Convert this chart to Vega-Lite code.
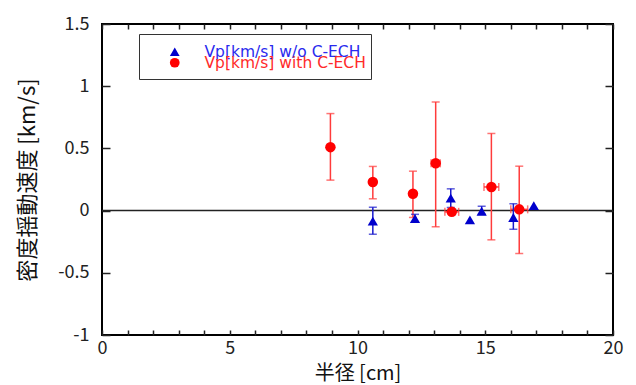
{
  "$schema": "https://vega.github.io/schema/vega-lite/v6.json",
  "width": 511,
  "height": 311,
  "autosize": {"type": "none"},
  "padding": {"left": 102, "top": 24, "right": 23, "bottom": 50},
  "background": "white",
  "config": {
    "view": {"stroke": "black", "strokeWidth": 2},
    "font": "Noto Sans CJK JP",
    "axis": {"domain": false, "grid": false, "labelFont": "Noto Sans CJK JP", "titleFont": "Noto Sans CJK JP", "labelColor": "#222", "titleColor": "#111", "tickColor": "#222", "labelFontSize": 18, "titleFontSize": 20, "titleFontWeight": "normal", "tickWidth": 1.5}
  },
  "data": {"values": [
    {"s": "Vp[km/s] with C-ECH", "r": 8.94, "v": 0.51, "vlo": 0.245, "vhi": 0.78},
    {"s": "Vp[km/s] with C-ECH", "r": 10.6, "v": 0.23, "vlo": 0.095, "vhi": 0.355},
    {"s": "Vp[km/s] with C-ECH", "r": 12.17, "v": 0.135, "vlo": -0.055, "vhi": 0.317},
    {"s": "Vp[km/s] with C-ECH", "r": 13.06, "v": 0.38, "vlo": -0.13, "vhi": 0.873, "rlo": 12.88, "rhi": 13.24},
    {"s": "Vp[km/s] with C-ECH", "r": 13.69, "v": -0.01, "vlo": -0.03, "vhi": 0.01, "rlo": 13.42, "rhi": 13.96},
    {"s": "Vp[km/s] with C-ECH", "r": 15.24, "v": 0.19, "vlo": -0.235, "vhi": 0.62, "rlo": 14.95, "rhi": 15.53},
    {"s": "Vp[km/s] with C-ECH", "r": 16.33, "v": 0.01, "vlo": -0.345, "vhi": 0.357, "rlo": 16.0, "rhi": 16.66},
    {"s": "Vp[km/s] w/o C-ECH", "r": 10.6, "v": -0.085, "vlo": -0.19, "vhi": 0.027},
    {"s": "Vp[km/s] w/o C-ECH", "r": 12.25, "v": -0.065, "vlo": -0.09, "vhi": -0.03},
    {"s": "Vp[km/s] w/o C-ECH", "r": 13.65, "v": 0.1, "vlo": 0.025, "vhi": 0.175},
    {"s": "Vp[km/s] w/o C-ECH", "r": 14.4, "v": -0.075},
    {"s": "Vp[km/s] w/o C-ECH", "r": 14.86, "v": -0.005, "vlo": -0.03, "vhi": 0.035},
    {"s": "Vp[km/s] w/o C-ECH", "r": 16.1, "v": -0.055, "vlo": -0.15, "vhi": 0.055},
    {"s": "Vp[km/s] w/o C-ECH", "r": 16.9, "v": 0.04}
  ]},
  "resolve": {"axis": {"x": "independent", "y": "independent"}, "scale": {"color": "independent"}},
  "layer": [
    {
      "data": {"values": [{"z": 0}]},
      "mark": {"type": "rule", "color": "#222", "strokeWidth": 1.5},
      "encoding": {"y": {"field": "z", "type": "quantitative", "scale": {"domain": [-1, 1.5], "nice": false, "zero": false}, "axis": null}}
    },
    {
      "transform": [{"filter": "isValid(datum.vlo) && datum.s === 'Vp[km/s] with C-ECH'"}],
      "mark": {"type": "errorbar", "color": "#ff3b3b", "thickness": 1.5, "ticks": {"size": 8, "thickness": 1.5}},
      "encoding": {
        "x": {"field": "r", "type": "quantitative", "scale": {"domain": [0, 20], "nice": false, "zero": false}, "axis": null},
        "y": {"field": "vlo", "type": "quantitative", "scale": {"domain": [-1, 1.5], "nice": false, "zero": false}, "axis": null},
        "y2": {"field": "vhi"}
      }
    },
    {
      "transform": [{"filter": "isValid(datum.rlo)"}],
      "mark": {"type": "errorbar", "color": "#ff3b3b", "thickness": 1.5, "ticks": {"size": 8, "thickness": 1.5}},
      "encoding": {
        "y": {"field": "v", "type": "quantitative", "scale": {"domain": [-1, 1.5], "nice": false, "zero": false}, "axis": null},
        "x": {"field": "rlo", "type": "quantitative", "scale": {"domain": [0, 20], "nice": false, "zero": false}, "axis": null},
        "x2": {"field": "rhi"}
      }
    },
    {
      "transform": [{"filter": "isValid(datum.vlo) && datum.s === 'Vp[km/s] w/o C-ECH'"}],
      "mark": {"type": "errorbar", "color": "#1a1acc", "thickness": 1.5, "ticks": {"size": 8, "thickness": 1.5}},
      "encoding": {
        "x": {"field": "r", "type": "quantitative", "scale": {"domain": [0, 20], "nice": false, "zero": false}, "axis": null},
        "y": {"field": "vlo", "type": "quantitative", "scale": {"domain": [-1, 1.5], "nice": false, "zero": false}, "axis": null},
        "y2": {"field": "vhi"}
      }
    },
    {
      "transform": [{"filter": "datum.s === 'Vp[km/s] w/o C-ECH'"}],
      "mark": {"type": "point", "filled": true, "opacity": 1, "shape": "triangle-up", "size": 105},
      "encoding": {
        "x": {"field": "r", "type": "quantitative", "scale": {"domain": [0, 20], "nice": false, "zero": false},
          "axis": {"orient": "bottom", "values": [0,1,2,3,4,5,6,7,8,9,10,11,12,13,14,15,16,17,18,19,20],
            "labelExpr": "datum.value % 5 === 0 ? datum.label : ''",
            "tickSize": -5, "labelPadding": 9, "title": "半径 [cm]", "titlePadding": 6, "labelFlush": false}},
        "y": {"field": "v", "type": "quantitative", "scale": {"domain": [-1, 1.5], "nice": false, "zero": false},
          "axis": {"orient": "left", "values": [-1, -0.5, 0, 0.5, 1, 1.5],
            "labelExpr": "(datum.value < 0 ? '-' : '') + format(abs(datum.value), '~g')",
            "tickSize": -8, "labelPadding": 21, "title": "密度揺動速度 [km/s]", "titleFontSize": 22, "titlePadding": 18, "labelFlush": false}},
        "color": {"field": "s", "type": "nominal",
          "scale": {"domain": ["Vp[km/s] w/o C-ECH"], "range": ["#0000cc"]},
          "legend": {"orient": "none", "legendX": 37, "legendY": 10, "title": " ", "titleOrient": "bottom", "titleFontSize": 6, "titlePadding": 2.5,
            "padding": 10, "strokeColor": "#333", "fillColor": "white",
            "labelFontSize": 15.5, "labelFont": "DejaVu Sans", "labelColor": "#2a2aee", "labelLimit": 300,
            "symbolType": "triangle-up", "symbolSize": 95, "symbolOffset": 18, "labelOffset": 22}}
      }
    },
    {
      "transform": [{"filter": "datum.s === 'Vp[km/s] with C-ECH'"}],
      "mark": {"type": "point", "filled": true, "opacity": 1, "shape": "circle", "size": 110},
      "encoding": {
        "x": {"field": "r", "type": "quantitative", "scale": {"domain": [0, 20], "nice": false, "zero": false}, "axis": null},
        "y": {"field": "v", "type": "quantitative", "scale": {"domain": [-1, 1.5], "nice": false, "zero": false}, "axis": null},
        "color": {"field": "s", "type": "nominal",
          "scale": {"domain": ["Vp[km/s] with C-ECH"], "range": ["#ff0000"]},
          "legend": {"orient": "none", "legendX": 37, "legendY": 21, "title": null,
            "padding": 10, "labelFontSize": 15.5, "labelFont": "DejaVu Sans", "labelColor": "#ff2a2a", "labelLimit": 300,
            "symbolType": "circle", "symbolSize": 95, "symbolOffset": 18, "labelOffset": 22}}
      }
    },
    {
      "mark": {"type": "point", "opacity": 0},
      "encoding": {
        "x": {"field": "r", "type": "quantitative", "scale": {"domain": [0, 20], "nice": false, "zero": false},
          "axis": {"orient": "top", "values": [0,1,2,3,4,5,6,7,8,9,10,11,12,13,14,15,16,17,18,19,20], "labels": false, "tickSize": -5, "title": null}},
        "y": {"field": "v", "type": "quantitative", "scale": {"domain": [-1, 1.5], "nice": false, "zero": false},
          "axis": {"orient": "right", "values": [-1, -0.5, 0, 0.5, 1, 1.5], "labels": false, "tickSize": -8, "title": null}}
      }
    }
  ]
}
